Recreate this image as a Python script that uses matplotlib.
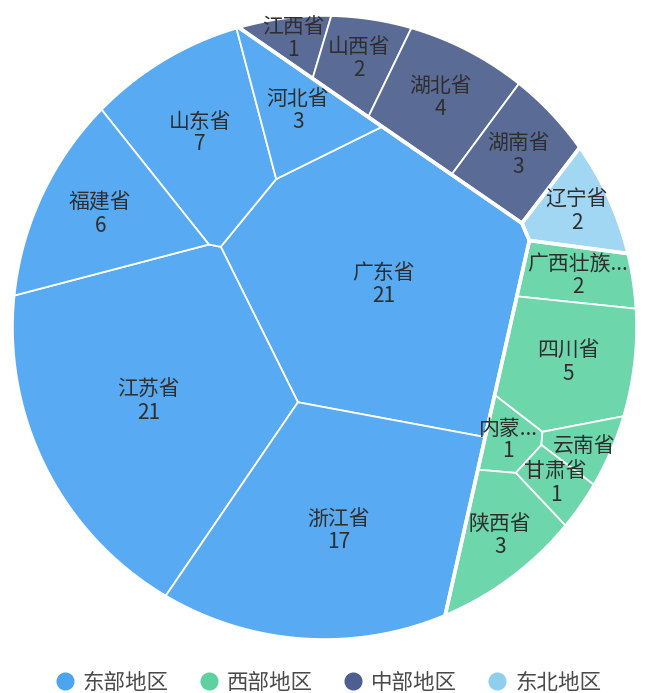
import numpy as np
import matplotlib
matplotlib.use('Agg')
import matplotlib.pyplot as plt
from matplotlib.patches import Polygon
from matplotlib.lines import Line2D

plt.rcParams['font.family'] = ['Noto Sans CJK SC', 'DejaVu Sans']

# ---------------- data ----------------
region_names = ['东部地区', '西部地区', '中部地区', '东北地区']

east_provinces = ['广东省', '江苏省', '浙江省', '山东省', '福建省', '河北省']
east_labels = ['广东省', '江苏省', '浙江省', '山东省', '福建省', '河北省']
east_values = [21, 21, 17, 7, 6, 3]

west_provinces = ['广西壮族自治区', '四川省', '内蒙古自治区', '云南省', '甘肃省', '陕西省']
west_labels = ['广西壮族...', '四川省', '内蒙...', '云南省', '甘肃省', '陕西省']
west_values = [2, 5, 1, 1, 1, 3]
west_value_shown = [True, True, True, False, True, True]

central_provinces = ['江西省', '山西省', '湖北省', '湖南省']
central_labels = ['江西省', '山西省', '湖北省', '湖南省']
central_values = [1, 2, 4, 3]

northeast_provinces = ['辽宁省']
northeast_labels = ['辽宁省']
northeast_values = [2]

# ---------------- layout / style ----------------
W, H = 647, 693
CX, CY, R = 324.5, 327.5, 312.5
region_colors = ['#58aaf2', '#6dd6ab', '#5a6b96', '#a2d7f3']
legend_colors = ['#4da5f0', '#5fd0a0', '#4c5f90', '#8ecfee']
label_color = '#2e2e2e'

# initial site hints (pixel space) for the Voronoi treemap layout
region_hints = [(255, 340), (578, 410), (430, 95), (595, 212)]
region_relax = 6
province_hints = [
    [(400, 300), (150, 415), (330, 545), (185, 165), (90, 225), (300, 120)],
    [(590, 275), (590, 360), (525, 450), (600, 445), (570, 490), (520, 550)],
    [(290, 35), (360, 55), (445, 90), (530, 150)],
    [(595, 212)],
]


def clip(P, a, b):
    if len(P) == 0:
        return P
    f = P @ a - b
    inside = f <= 0
    if inside.all():
        return P
    if not inside.any():
        return P[:0]
    Q = np.roll(P, -1, axis=0)
    fq = np.roll(f, -1)
    cross = inside != np.roll(inside, -1)
    denom = np.where(cross, f - fq, 1.0)
    t = np.where(cross, f / denom, 0.0)
    I = P + t[:, None] * (Q - P)
    n = len(P)
    pts = np.empty((2 * n, 2))
    pts[0::2] = P
    pts[1::2] = I
    m = np.empty(2 * n, bool)
    m[0::2] = inside
    m[1::2] = cross
    return pts[m]


def power_cells(sites, w, boundary):
    n = len(sites)
    cells = []
    for i in range(n):
        P = boundary
        for j in range(n):
            if j == i:
                continue
            a = 2 * (sites[j] - sites[i])
            b = sites[j] @ sites[j] - sites[i] @ sites[i] - w[j] + w[i]
            P = clip(P, a, b)
            if len(P) == 0:
                break
        cells.append(P)
    return cells


def area_centroid(P):
    if len(P) < 3:
        return 0.0, None
    x, y = P[:, 0], P[:, 1]
    x1, y1 = np.roll(x, -1), np.roll(y, -1)
    c = x * y1 - x1 * y
    A = c.sum() / 2
    if abs(A) < 1e-9:
        return 0.0, None
    cx = ((x + x1) * c).sum() / (6 * A)
    cy = ((y + y1) * c).sum() / (6 * A)
    return abs(A), np.array([cx, cy])


def voronoi_treemap(boundary, values, hints, outer=20, inner=50, eta=0.3):
    values = np.asarray(values, float)
    total, _ = area_centroid(boundary)
    target = values / values.sum() * total
    sites = np.array(hints, float)
    n = len(sites)
    if n == 1:
        return [boundary]
    w = np.zeros(n)
    for o in range(outer + 1):
        iters = inner if o < outer else 300
        for k in range(iters):
            cells = power_cells(sites, w, boundary)
            areas = np.array([area_centroid(c)[0] for c in cells])
            w += eta * (target - areas)
            w -= w.mean()
        if o < outer:
            cells = power_cells(sites, w, boundary)
            for i, c in enumerate(cells):
                A, cen = area_centroid(c)
                if cen is not None:
                    sites[i] = 0.6 * sites[i] + 0.4 * cen
    return power_cells(sites, w, boundary)


theta = np.linspace(0, 2 * np.pi, 360, endpoint=False)
circle = np.column_stack([CX + R * np.cos(theta), CY + R * np.sin(theta)])

groups = [
    (east_labels, east_values, [True] * len(east_values)),
    (west_labels, west_values, west_value_shown),
    (central_labels, central_values, [True] * len(central_values)),
    (northeast_labels, northeast_values, [True]),
]
region_totals = [sum(g[1]) for g in groups]

region_cells = voronoi_treemap(circle, region_totals, region_hints, outer=region_relax)

fig = plt.figure(figsize=(W / 100, H / 100), dpi=100)
ax = fig.add_axes([0, 0, 1, 1])
ax.set_xlim(0, W)
ax.set_ylim(H, 0)
ax.axis('off')

for gi, (labels, vals, shown) in enumerate(groups):
    cells = voronoi_treemap(region_cells[gi], vals, province_hints[gi], outer=10)
    for lab, v, s, cell in zip(labels, vals, shown, cells):
        if len(cell) < 3:
            continue
        ax.add_patch(Polygon(cell, closed=True, facecolor=region_colors[gi],
                             edgecolor='white', linewidth=1.3, zorder=2))
        A, cen = area_centroid(cell)
        txt = f'{lab}\n{v}' if s else lab
        ax.text(cen[0], cen[1], txt, ha='center', va='center', fontsize=15,
                color=label_color, linespacing=1.05, zorder=4)
    ax.add_patch(Polygon(region_cells[gi], closed=True, facecolor='none',
                         edgecolor='white', linewidth=2.6, zorder=3))

handles = [Line2D([0], [0], marker='o', linestyle='none', markersize=12,
                  markerfacecolor=c, markeredgecolor=c) for c in legend_colors]
ax.legend(handles, region_names, loc='center', bbox_to_anchor=(0.508, 1 - 683 / H),
          ncol=4, frameon=False, fontsize=15.5, handlelength=0.8,
          handletextpad=0.45, columnspacing=1.45, labelcolor='#4a4a4a',
          borderaxespad=0)

fig.savefig('out.png', dpi=100)
